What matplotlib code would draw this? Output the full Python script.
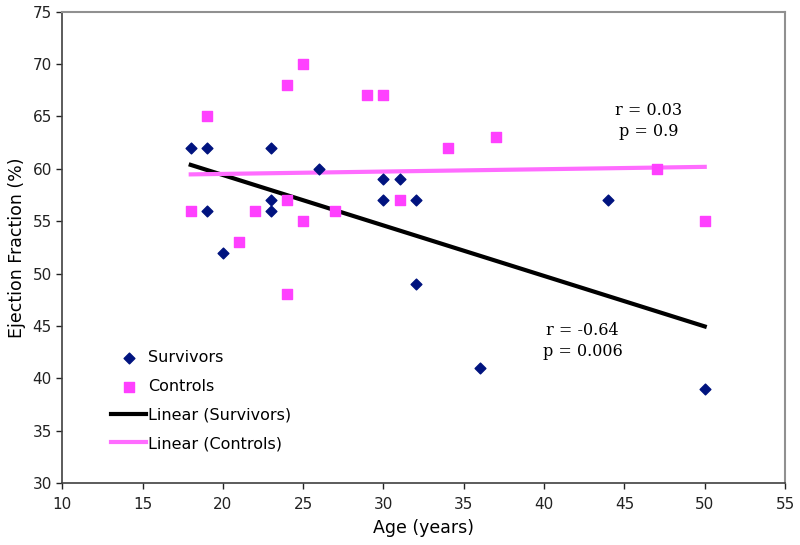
import matplotlib
matplotlib.use("Agg")
import matplotlib.pyplot as plt
import numpy as np

surv_age = [18, 19, 19, 20, 23, 23, 23, 26, 30, 30, 31, 32, 32, 36, 44, 50]
surv_ef = [62, 62, 56, 52, 62, 57, 56, 60, 59, 57, 59, 57, 49, 41, 57, 39]
ctrl_age = [18, 19, 21, 22, 24, 24, 24, 25, 25, 27, 29, 30, 31, 34, 37, 47, 50]
ctrl_ef = [56, 65, 53, 56, 68, 57, 48, 70, 55, 56, 67, 67, 57, 62, 63, 60, 55]

xticks = list(range(10, 56, 5))
yticks = list(range(30, 76, 5))

fig = plt.figure(figsize=(8, 5.45), dpi=100)
ax = fig.add_axes([0.0778, 0.1138, 0.9035, 0.8647])

def fit_line(x, y):
    x = np.array(x, float); y = np.array(y, float)
    m, b = np.polyfit(x, y, 1)
    xs = np.array([x.min(), x.max()])
    return xs, m * xs + b

ax.scatter(surv_age, surv_ef, marker='D', s=30, color='#00137f', zorder=3, label='Survivors')
ax.scatter(ctrl_age, ctrl_ef, marker='s', s=55, color='#ff40ff', zorder=3, label='Controls')
xs, ys = fit_line(surv_age, surv_ef)
ax.plot(xs, ys, color='black', lw=3, zorder=2, label='Linear (Survivors)')
xs, ys = fit_line(ctrl_age, ctrl_ef)
ax.plot(xs, ys, color='#ff6cff', lw=3, zorder=2, label='Linear (Controls)')

ax.set_xlim(10, 55)
ax.set_ylim(30, 75)
ax.set_xticks(xticks)
ax.set_yticks(yticks)
ax.tick_params(direction='out', length=4, labelsize=11, colors='#222222', width=1)
ax.tick_params(axis='x', pad=6)
for s in ['left', 'bottom']:
    ax.spines[s].set_color('#404040'); ax.spines[s].set_linewidth(1.2)
for s in ['top', 'right']:
    ax.spines[s].set_color('#909090'); ax.spines[s].set_linewidth(1.5)

ax.set_xlabel('Age (years)', fontsize=12.5, labelpad=5)
ax.set_ylabel('Ejection Fraction (%)', fontsize=12.5, labelpad=5)

ax.text(46.5, 64.6, 'r = 0.03\np = 0.9', ha='center', va='center',
        family='DejaVu Serif', fontsize=11.5, linespacing=1.3)
ax.text(42.4, 43.6, 'r = -0.64\np = 0.006', ha='center', va='center',
        family='DejaVu Serif', fontsize=11.5, linespacing=1.3)

leg = ax.legend(loc='upper left', bbox_to_anchor=(0.059, 0.295), frameon=False,
                fontsize=11.5, handlelength=2.2, handletextpad=0.1,
                labelspacing=0.85, borderaxespad=0)

fig.savefig('out.png', dpi=100)
